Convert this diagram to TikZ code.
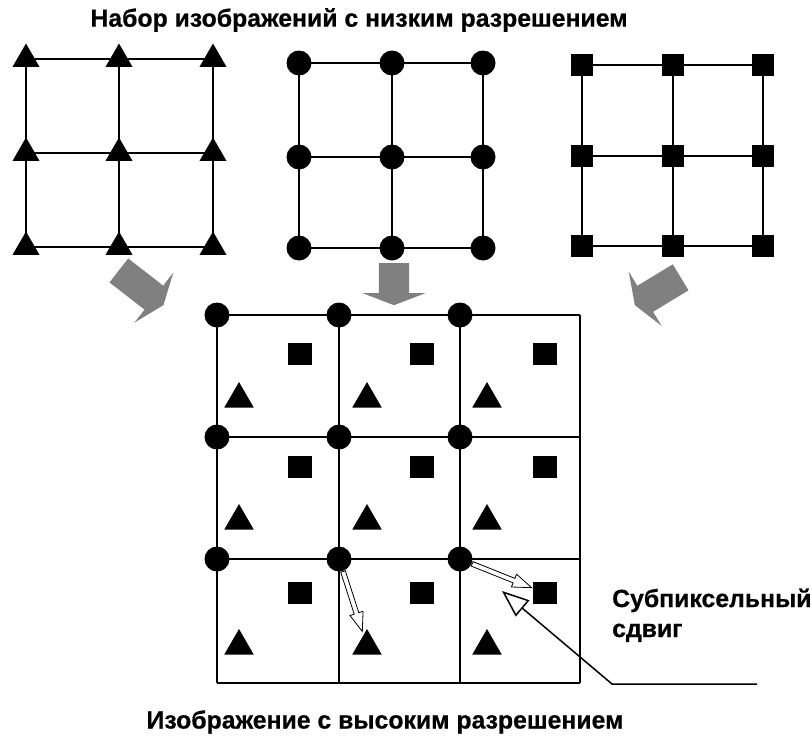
\documentclass[tikz,border=0pt]{standalone}
\usepackage{fontspec}
\setmainfont{Liberation Sans}
\newfontfamily\heavyfont[BoldFeatures={FakeBold=0.6}]{Liberation Sans}
\usetikzlibrary{shapes.geometric,shapes.arrows,arrows.meta}
\begin{document}
\begin{tikzpicture}[x=1pt,y=-1pt,
  gridline/.style={line width=1.9pt},
  tri/.style={regular polygon, regular polygon sides=3, fill=black, inner sep=0pt, minimum size=31pt},
  bigtri/.style={regular polygon, regular polygon sides=3, fill=black, inner sep=0pt, minimum size=34pt},
  dot/.style={circle, fill=black, inner sep=0pt, minimum size=25pt},
  sq/.style={rectangle, fill=black, inner sep=0pt, minimum size=22pt},
  bigsq/.style={rectangle, fill=black, inner sep=0pt, minimum width=24pt, minimum height=22pt},
  grayarrow/.style={single arrow, fill=gray, draw=none, minimum width=63pt, inner xsep=0pt, inner ysep=15pt,
     single arrow head extend=16.5pt, single arrow tip angle=138, sloped, allow upside down, pos=0, anchor=tail},
  shiftarrow/.style={single arrow, draw=black, line width=0.8pt, fill=none, inner xsep=0pt, inner ysep=2pt,
     single arrow head extend=4.5pt, single arrow tip angle=40, sloped, allow upside down, pos=0, anchor=tail},
  lbl/.style={font=\heavyfont\bfseries\fontsize{24.8}{28}\selectfont, inner sep=0pt}
]
\useasboundingbox (0,0) rectangle (812,737);

% ---------- small grid 1: triangles ----------
\foreach \c/\x in {1/26,2/119,3/213}
  \foreach \r/\y in {1/59,2/153,3/247}
    \coordinate (A\c\r) at (\x,\y);
\foreach \r in {1,2,3} \draw[gridline] (A1\r) -- (A3\r);
\foreach \c in {1,2,3} \draw[gridline] (A\c1) -- (A\c3);
\foreach \c in {1,2,3} \foreach \r in {1,2,3} \node[tri] (ta\c\r) at (A\c\r) {};

% ---------- small grid 2: circles ----------
\foreach \c/\x in {1/299,2/392,3/483}
  \foreach \r/\y in {1/63,2/157,3/248}
    \coordinate (B\c\r) at (\x,\y);
\foreach \r in {1,2,3} \draw[gridline] (B1\r) -- (B3\r);
\foreach \c in {1,2,3} \draw[gridline] (B\c1) -- (B\c3);
\foreach \c in {1,2,3} \foreach \r in {1,2,3} \node[dot] (cb\c\r) at (B\c\r) {};

% ---------- small grid 3: squares ----------
\foreach \c/\x in {1/582,2/673,3/763}
  \foreach \r/\y in {1/65,2/156,3/246}
    \coordinate (C\c\r) at (\x,\y);
\foreach \r in {1,2,3} \draw[gridline] (C1\r) -- (C3\r);
\foreach \c in {1,2,3} \draw[gridline] (C\c1) -- (C\c3);
\foreach \c in {1,2,3} \foreach \r in {1,2,3} \node[sq] (sc\c\r) at (C\c\r) {};

% ---------- big grid ----------
\foreach \c/\x in {1/217,2/339,3/460,4/580}
  \foreach \r/\y in {1/315,2/437,3/559,4/683}
    \coordinate (G\c\r) at (\x,\y);
\foreach \r in {1,2,3,4} \draw[line width=1.6pt] (G1\r) -- (G4\r);
\foreach \c in {1,2,3,4} \draw[line width=1.6pt] (G\c1) -- (G\c4);
\foreach \c in {1,2,3} \foreach \r in {1,2,3} \node[dot] (g\c\r) at (G\c\r) {};

% squares in cells
\foreach \c/\x in {1/300,2/422,3/545}
  \foreach \r/\y in {1/354,2/467,3/593}
    \node[bigsq] (q\c\r) at (\x,\y) {};
% triangles in cells
\foreach \c/\x in {1/239,2/367,3/487}
  \foreach \r/\y in {1/399,2/521,3/646}
    \node[bigtri] (t\c\r) at (\x,\y) {};

% ---------- gray block arrows ----------
\coordinate (la0) at (118.7,270.3); \coordinate (la1) at (163.3,305);
\coordinate (ma0) at (394,263);     \coordinate (ma1) at (394,305);
\coordinate (ra0) at (680.8,277.2); \coordinate (ra1) at (635,305);
\path (la0) -- node[grayarrow, minimum height=56.5pt] (arrL) {} (la1);
\path (ma0) -- node[grayarrow, minimum height=42pt] (arrM) {} (ma1);
\path (ra0) -- node[grayarrow, minimum height=53.6pt] (arrR) {} (ra1);

% ---------- subpixel shift arrows ----------
\path (g23) -- node[shiftarrow, minimum height=63pt] (sh1) {} (t23);
\path (g33) -- node[shiftarrow, minimum height=64pt] (sh2) {} (q33);

% ---------- labels ----------
\node[lbl] (title) at (359,20) {Набор изображений с низким разрешением};
\node[lbl] (bottom) at (385,722) {Изображение с высоким разрешением};
\node[lbl, anchor=base west] (lab1) at (612,607) {Субпиксельный};
\node[lbl, anchor=base west] (lab2) at (612,637) {сдвиг};

% leader with hollow arrow
\coordinate (ldend) at (757,684);
\coordinate (ldknee) at (612,684);
\coordinate (ldtip) at (502,591);
\draw[line width=1.5pt, -{Triangle[open, fill=white, length=27pt, width=21pt]}] (ldend) -- (ldknee) -- (ldtip);
\end{tikzpicture}
\end{document}
